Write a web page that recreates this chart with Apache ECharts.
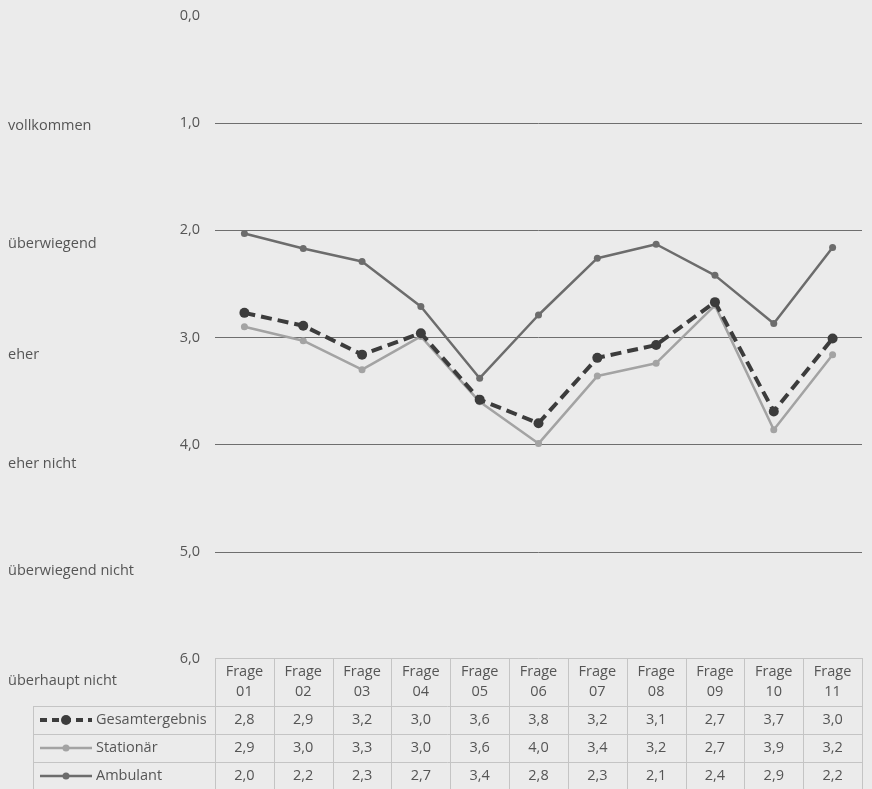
<!DOCTYPE html>
<html>
<head>
<meta charset="utf-8">
<script src="https://cdn.jsdelivr.net/npm/echarts@6/dist/echarts.min.js"></script>
<style>
html,body{margin:0;padding:0;background:#ebebeb;}
#chart{width:872px;height:789px;}
</style>
</head>
<body>
<div id="chart"></div>
<script>
const categories = ['Frage\n01','Frage\n02','Frage\n03','Frage\n04','Frage\n05','Frage\n06','Frage\n07','Frage\n08','Frage\n09','Frage\n10','Frage\n11'];
const gesamt     = [2.77, 2.89, 3.16, 2.96, 3.58, 3.80, 3.19, 3.07, 2.67, 3.69, 3.01];
const stationaer = [2.90, 3.03, 3.30, 2.99, 3.60, 3.99, 3.36, 3.24, 2.70, 3.86, 3.16];
const ambulant   = [2.03, 2.17, 2.29, 2.71, 3.38, 2.79, 2.26, 2.13, 2.42, 2.87, 2.16];
const seriesNames = ['Gesamtergebnis', 'Stationär', 'Ambulant'];
const levelLabels = ['vollkommen', 'überwiegend', 'eher', 'eher nicht', 'überwiegend nicht', 'überhaupt nicht'];
const levelValues = [1, 2, 3, 4, 5, 6];

const FONT = 'Open Sans';
const FS = 14.5;
const TXT = '#555555';
const colors = { g: '#3c3c3c', s: '#a3a3a3', a: '#6c6c6c' };

const chart = echarts.init(document.getElementById('chart'), null, { renderer: 'canvas' });

const fmt = v => v.toFixed(1).replace('.', ',');

chart.setOption({
  backgroundColor: '#ebebeb',
  animation: false,
  grid: { left: 215, right: 10, top: 16, bottom: 130 },
  xAxis: {
    type: 'category',
    data: categories,
    boundaryGap: true,
    axisLine: { show: false },
    axisTick: { show: false },
    axisLabel: { show: false },
    splitLine: { show: false }
  },
  yAxis: {
    type: 'value',
    inverse: true,
    min: 0, max: 6, interval: 1,
    axisLine: { show: false },
    axisTick: { show: false },
    axisLabel: {
      formatter: v => fmt(v),
      color: TXT, fontFamily: FONT, fontSize: FS, margin: 15
    },
    splitLine: {
      show: true, showMinLine: false, showMaxLine: false,
      lineStyle: { color: '#6e6e6e', width: 1 }
    }
  },
  series: [
    {
      name: seriesNames[2], type: 'line', data: ambulant,
      symbol: 'circle', symbolSize: 7,
      lineStyle: { color: colors.a, width: 2.5 },
      itemStyle: { color: colors.a }, z: 2
    },
    {
      name: seriesNames[1], type: 'line', data: stationaer,
      symbol: 'circle', symbolSize: 7,
      lineStyle: { color: colors.s, width: 2.5 },
      itemStyle: { color: colors.s }, z: 3
    },
    {
      name: seriesNames[0], type: 'line', data: gesamt,
      symbol: 'circle', symbolSize: 10,
      lineStyle: { color: colors.g, width: 4, type: [11, 6] },
      itemStyle: { color: colors.g }, z: 4
    }
  ]
});

// ---- table & left labels via graphic ----
const g = [];
const gridLeft = 215, gridRight = 862;
const band = (gridRight - gridLeft) / categories.length;
const tTop = chart.convertToPixel({ yAxisIndex: 0 }, 6) - 1;
const headH = 48, rowH = 28;
const legLeft = 33;
const lineCol = '#c4c4c4';
const rowsTop = tTop + headH;

function hline(x1, x2, y) {
  g.push({ type: 'line', shape: { x1, y1: y + 0.5, x2, y2: y + 0.5 }, style: { stroke: lineCol, lineWidth: 1 }, silent: true });
}
function vline(x, y1, y2) {
  g.push({ type: 'line', shape: { x1: x + 0.5, y1, x2: x + 0.5, y2 }, style: { stroke: lineCol, lineWidth: 1 }, silent: true });
}
function text(x, y, str, align, extra) {
  g.push({ type: 'text', x, y, silent: true,
    style: Object.assign({ text: str, fill: TXT, font: FS + 'px "' + FONT + '"', textAlign: align, textVerticalAlign: 'middle' }, extra || {}) });
}

hline(gridLeft, gridRight, Math.round(tTop));
for (let r = 0; r <= 3; r++) hline(legLeft, gridRight, Math.round(rowsTop + r * rowH));
for (let c = 0; c <= categories.length; c++) vline(Math.round(gridLeft + c * band), Math.round(tTop), Math.round(rowsTop + 3 * rowH));
vline(legLeft, Math.round(rowsTop), Math.round(rowsTop + 3 * rowH));

categories.forEach((cat, i) => {
  const cx = chart.convertToPixel({ xAxisIndex: 0 }, i);
  text(cx, tTop + headH / 2, cat, 'center', { lineHeight: 20 });
});

const tableData = [gesamt, stationaer, ambulant];
const legStyles = [
  { c: colors.g, w: 4, dash: [7, 5], r: 5 },
  { c: colors.s, w: 2.5, dash: null, r: 3.5 },
  { c: colors.a, w: 2.5, dash: null, r: 3.5 }
];
tableData.forEach((arr, r) => {
  const cy = rowsTop + r * rowH + rowH / 2;
  arr.forEach((v, i) => {
    const cx = chart.convertToPixel({ xAxisIndex: 0 }, i);
    text(cx, cy, fmt(v), 'center');
  });
  const ls = legStyles[r];
  g.push({ type: 'line', silent: true, shape: { x1: 40, y1: cy, x2: 92, y2: cy },
    style: { stroke: ls.c, lineWidth: ls.w, lineDash: ls.dash } });
  g.push({ type: 'circle', silent: true, shape: { cx: 66, cy, r: ls.r }, style: { fill: ls.c } });
  text(96, cy, seriesNames[r], 'left');
});

const labelOffsets = [3, 14, 17, 19, 19, 22];
levelLabels.forEach((lab, i) => {
  const y = chart.convertToPixel({ yAxisIndex: 0 }, levelValues[i]) + labelOffsets[i];
  text(8, y, lab, 'left');
});

chart.setOption({ graphic: g });
</script>
</body>
</html>
